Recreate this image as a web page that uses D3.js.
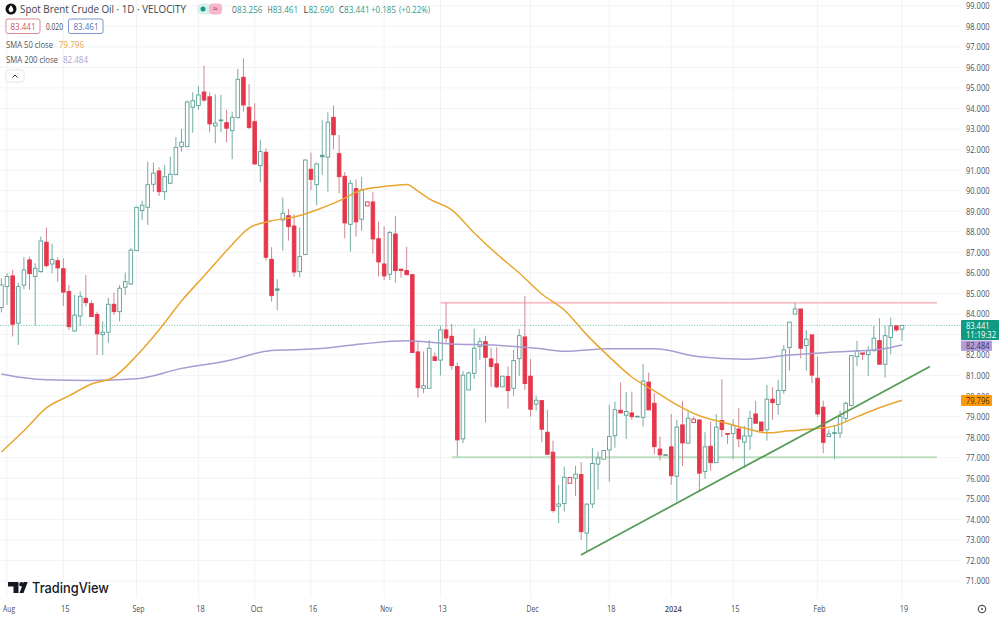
<!DOCTYPE html>
<html>
<head>
<meta charset="utf-8">
<script src="https://cdn.jsdelivr.net/npm/d3@7"></script>
<style>
	html, body { margin: 0; padding: 0; background: #fff; }
	svg { display: block; font-family: "Open Sans", sans-serif; }
</style>
</head>
<body>
<div id="chart"></div>
<script>
var opens = [84.31,85.33,85.85,83.55,85.40,86.63,85.82,86.06,87.49,86.43,
	86.59,86.20,85.09,83.17,83.90,84.76,84.50,83.97,82.99,83.11,
	84.47,84.11,85.30,85.46,87.08,89.03,89.19,90.31,90.96,89.95,
	90.36,90.78,92.14,92.14,94.06,94.14,94.80,94.57,93.15,93.44,
	93.31,92.92,93.55,95.52,94.06,93.36,91.22,91.87,86.66,85.22,
	88.57,88.78,88.28,86.06,86.89,91.04,90.29,91.72,91.63,93.57,
	91.80,90.70,88.36,90.10,88.61,89.26,89.45,87.66,86.43,85.93,
	87.89,86.18,86.11,85.91,82.15,80.38,80.38,81.91,81.75,83.22,
	82.91,81.44,77.92,80.30,81.11,82.41,82.65,81.81,81.57,80.45,
	80.95,80.38,81.82,82.88,80.97,79.61,79.78,78.24,77.27,74.64,
	74.77,75.76,76.00,76.18,73.33,74.75,76.69,76.93,77.38,78.07,
	79.31,79.07,79.18,79.02,78.97,80.68,79.65,77.42,77.15,77.53,
	76.10,78.60,77.71,78.71,78.84,76.33,77.56,76.76,78.81,78.18,
	78.18,78.40,77.76,78.06,79.13,78.74,78.36,79.85,79.59,80.27,
	82.36,83.99,84.24,82.46,82.98,80.87,79.46,78.03,78.22,78.20,
	78.92,79.54,81.92,82.10,82.02,82.21,82.70,81.55,82.85,83.42,
	83.256];
var highs = [85.74,85.98,86.14,85.52,86.76,86.79,86.47,87.76,88.20,87.41,
	86.76,86.71,85.41,84.92,85.09,85.90,84.65,84.11,83.63,84.79,
	85.04,85.41,86.01,87.20,89.22,89.51,91.41,91.36,91.14,91.25,
	91.65,92.60,93.00,94.38,94.79,95.09,96.08,94.79,94.69,94.66,
	93.93,93.84,95.92,96.44,95.19,94.25,92.47,92.06,87.25,85.69,
	89.66,89.11,88.85,88.20,91.53,91.85,91.36,93.43,93.81,94.14,
	92.71,90.90,90.52,90.55,90.67,89.45,89.92,88.49,88.25,88.04,
	88.77,86.18,87.27,85.95,82.65,82.17,82.73,82.12,83.42,84.55,
	83.51,81.63,81.23,81.19,83.28,82.85,82.93,82.36,82.38,80.97,
	81.44,82.25,83.27,84.88,81.81,80.01,79.78,79.33,77.83,75.66,
	76.57,76.04,76.60,76.78,74.79,77.48,77.30,77.38,79.57,79.73,
	80.66,80.20,80.22,79.02,81.57,81.14,80.14,78.03,77.15,79.13,
	78.84,79.77,79.29,79.00,78.84,78.24,78.76,79.13,80.82,78.18,
	78.88,79.41,78.55,79.29,79.77,78.74,80.55,80.43,80.79,82.49,
	83.60,84.55,84.24,83.22,82.98,81.92,79.78,78.36,78.60,79.29,
	79.73,82.00,82.69,82.10,82.44,83.43,83.79,83.43,83.82,83.42,
	83.461];
var lows = [84.08,84.44,82.90,82.49,85.20,85.17,83.43,86.01,86.27,85.98,
	85.57,84.39,83.22,83.14,83.42,84.36,83.87,82.00,82.00,82.60,
	83.95,83.63,84.92,85.41,87.08,88.57,88.33,89.94,89.74,89.55,
	90.33,90.75,91.90,92.14,92.82,93.93,94.33,92.84,92.31,92.84,
	92.36,91.53,93.52,93.84,92.99,91.25,90.41,86.59,84.60,84.19,
	87.08,87.57,85.82,85.77,86.87,90.03,89.30,90.76,89.95,92.02,
	89.87,87.68,87.03,87.76,88.05,89.26,86.92,85.82,85.65,85.65,
	85.52,85.77,85.90,82.12,79.93,80.14,80.38,81.73,81.00,82.60,
	81.28,77.06,77.71,80.30,80.84,81.76,78.71,80.46,80.38,80.45,
	79.39,80.01,80.98,80.30,79.00,79.30,77.75,77.14,74.33,73.82,
	74.38,75.76,75.14,73.00,72.42,74.55,75.44,76.93,75.83,77.49,
	79.18,77.91,78.84,79.02,78.52,79.33,77.17,76.86,77.15,75.68,
	74.87,76.60,77.67,78.71,75.35,75.97,76.37,76.74,78.01,77.67,
	76.93,77.51,76.51,77.38,78.68,78.31,77.83,78.84,79.09,80.11,
	81.24,83.99,81.84,81.24,80.63,78.97,77.22,78.03,76.93,77.95,
	78.76,79.49,81.47,81.76,80.98,82.17,81.55,80.90,82.04,83.14,
	82.690];
var closes = [85.41,85.82,83.50,85.33,86.14,85.96,86.22,87.55,86.35,86.66,
	86.24,85.06,83.38,83.94,84.86,84.55,83.87,83.03,83.11,84.47,
	84.11,85.25,85.57,87.11,89.19,89.29,90.29,90.85,89.95,90.68,
	90.80,92.11,92.36,94.32,94.38,94.66,94.41,93.25,93.29,93.41,
	93.04,93.57,95.42,94.17,93.08,91.30,91.90,86.76,84.89,85.15,
	88.90,88.25,86.04,86.79,91.49,90.55,91.30,91.65,93.33,92.72,
	90.68,88.43,90.36,88.48,90.03,89.45,87.65,86.53,85.85,87.96,
	86.11,86.11,85.91,82.12,80.41,80.51,82.33,81.73,83.22,82.83,
	81.48,77.87,81.02,81.13,82.33,82.65,81.89,81.44,80.45,80.97,
	80.27,81.73,82.94,80.61,79.36,79.80,78.39,77.17,74.43,74.75,
	76.05,76.04,76.20,73.40,74.74,76.72,76.99,77.35,78.03,79.34,
	79.18,79.25,79.00,79.02,80.73,79.33,77.54,77.14,77.15,76.12,
	78.49,77.72,78.92,78.88,76.25,77.53,76.76,78.49,78.37,78.16,
	78.56,77.92,78.06,78.92,78.68,78.31,79.85,79.68,80.27,82.25,
	83.60,84.24,82.33,82.77,81.02,79.13,77.75,78.16,78.20,79.00,
	79.65,81.97,82.20,82.04,82.21,82.82,81.55,82.94,83.42,83.22,
	83.441];

// moving averages read at these bar numbers
var sma50Bars = [0,4,8,12,16,20,24,28,32,36,40,44,48,52,56,60,64,68,72,74,76,80,84,88,92,96,100,104,108,112,116,120,124,128,132,136,140,144,148,152,156,160];
var sma50 = [77.28,78.31,79.43,80.01,80.59,80.93,81.96,83.22,84.63,85.85,87.07,88.18,88.53,88.72,89.06,89.50,90.03,90.20,90.30,89.98,89.60,89.06,87.94,86.92,85.99,84.97,84.19,82.98,81.91,80.93,80.25,79.57,79.04,78.74,78.45,78.21,78.31,78.40,78.55,78.99,79.43,79.796];
var sma200Bars = [0,4,8,16,24,32,40,48,56,64,72,80,88,96,100,108,116,124,132,140,148,156,160];
var sma200 = [81.08,80.89,80.79,80.76,80.84,81.35,81.71,82.22,82.30,82.54,82.69,82.54,82.47,82.30,82.18,82.30,82.30,81.91,81.79,82.00,82.15,82.27,82.484];

// drawn levels
var resistanceLevel = 84.54, resistanceBars = [78, 166.2];
var supportLevel = 77.02, supportBars = [80, 166.2];
var trendBars = [102.95, 164.97], trendPrices = [72.27, 81.44];

// 83.000 sits under the last price tag, so it has no label
var priceTicks = d3.range(71, 100).filter(function(d) { return d != 83; });
var gridPrices = d3.range(71, 100);
var dateBars = [1,11,24,35,45,55,68,78,94,108,119,130,145,160];
var dateLabels = ["Aug","15","Sep","18","Oct","16","Nov","13","Dec","18","2024","15","Feb","19"];
var ohlcNames = ["O","H","L","C"];
var ohlcValues = ["83.256","83.461","82.690","83.441"];

var W = 1000, H = 618;
var UP = "#5c9f96", DOWN = "#e6364b", UPWICK = "#76aca5", DOWNWICK = "#cf8791";

var svg = d3.select("#chart").append("svg").attr("width", W).attr("height", H);
var x = d3.scaleLinear().domain([0, 160]).range([1.4, 902]);
var y = d3.scaleLinear().domain([71, 99]).range([581, 5.75]);

// small text helper, squeezes the glyphs to the width seen in the picture
function label(parent, px, py, s, size, colour, wid) {
	return parent.append("text").attr("x", px).attr("y", py).attr("font-size", size).attr("fill", colour)
		.attr("textLength", wid).attr("lengthAdjust", "spacingAndGlyphs").text(s);
}

// grid and axes
var yAxis = d3.axisRight(y).tickValues(priceTicks).tickFormat(d3.format(".3f")).tickSize(0).tickPadding(0);
svg.append("g").selectAll("line").data(gridPrices).enter().append("line")
	.attr("x1", 0).attr("x2", 960).attr("y1", function(d) { return y(d); }).attr("y2", function(d) { return y(d); })
	.attr("stroke", "#f2f3f6");
svg.append("g").selectAll("line").data(dateBars).enter().append("line")
	.attr("x1", function(d) { return x(d); }).attr("x2", function(d) { return x(d); }).attr("y1", 0).attr("y2", 598)
	.attr("stroke", "#f2f3f6");
var yg = svg.append("g").attr("transform", "translate(966,0)").call(yAxis);
yg.select(".domain").remove();
yg.selectAll("text").attr("font-size", 9.2).attr("fill", "#4a4e57").attr("font-family", "Open Sans")
	.attr("textLength", 23.5).attr("lengthAdjust", "spacingAndGlyphs");
var xAxis = d3.axisBottom(x).tickValues(dateBars).tickFormat(function(d, i) { return dateLabels[i]; }).tickSize(0).tickPadding(0);
var xg = svg.append("g").attr("transform", "translate(1.5,605)").call(xAxis);
xg.select(".domain").remove();
xg.selectAll("text").attr("font-size", 9.2).attr("fill", "#4a4e57").attr("font-family", "Open Sans")
	.attr("font-weight", function(d, i) { return dateLabels[i] == "2024" ? 600 : 400; })
	.attr("textLength", function(d, i) { var n = dateLabels[i].length; return n == 2 ? 8.5 : (n == 3 ? 12 : 17); })
	.attr("lengthAdjust", "spacingAndGlyphs");

// last price dotted line
svg.append("line").attr("x1", 0).attr("x2", 961).attr("y1", y(83.441)).attr("y2", y(83.441))
	.attr("stroke", "#4fb3a5").attr("stroke-dasharray", "1 1.6").attr("opacity", 0.8);

// level lines under the candles
svg.append("line").attr("x1", x(resistanceBars[0])).attr("x2", x(resistanceBars[1]))
	.attr("y1", y(resistanceLevel)).attr("y2", y(resistanceLevel)).attr("stroke", "#f6c3c9").attr("stroke-width", 2);
svg.append("line").attr("x1", x(supportBars[0])).attr("x2", x(supportBars[1]))
	.attr("y1", y(supportLevel)).attr("y2", y(supportLevel)).attr("stroke", "#bcdfc0").attr("stroke-width", 2);

// candles
var bars = closes.map(function(c, i) {
	return { i: i, o: opens[i], h: highs[i], l: lows[i], c: c, rising: i == 0 || c > closes[i - 1] };
});
var candle = svg.append("g").selectAll("g").data(bars).enter().append("g");
candle.append("line")
	.attr("x1", function(d) { return x(d.i); }).attr("x2", function(d) { return x(d.i); })
	.attr("y1", function(d) { return y(d.h); }).attr("y2", function(d) { return y(d.l); })
	.attr("stroke", function(d) { return d.rising ? UPWICK : DOWNWICK; }).attr("stroke-width", 1);
candle.append("rect")
	.attr("x", function(d) { return x(d.i) - 1.8; }).attr("width", 3.6)
	.attr("y", function(d) { return y(Math.max(d.o, d.c)); })
	.attr("height", function(d) { return Math.max(0.8, Math.abs(y(d.o) - y(d.c))); })
	.attr("fill", function(d) { return d.c >= d.o ? "#fff" : (d.rising ? UP : DOWN); })
	.attr("stroke", function(d) { return d.rising ? UP : DOWN; }).attr("stroke-width", 0.9);

// moving averages
function smaLine(barsRead, values, colour) {
	var line = d3.line().x(function(d) { return x(d); })
		.y(function(d, i) { return y(values[i]); }).curve(d3.curveMonotoneX);
	svg.append("path").attr("d", line(barsRead)).attr("fill", "none")
		.attr("stroke", colour).attr("stroke-width", 1.5);
}
smaLine(sma200Bars, sma200, "#a99cd0");
smaLine(sma50Bars, sma50, "#e9a62f");

// trend line
svg.append("line").attr("x1", x(trendBars[0])).attr("x2", x(trendBars[1]))
	.attr("y1", y(trendPrices[0])).attr("y2", y(trendPrices[1]))
	.attr("stroke", "#559b55").attr("stroke-width", 1.7);

// price tags
function tag(top, wid, hei, colour) {
	svg.append("rect").attr("x", 961).attr("y", top).attr("width", wid).attr("height", hei).attr("rx", 1).attr("fill", colour);
}
tag(y(83.441) - 5.5, 38, 20, "#0f9a82");
label(svg, 966, y(83.441) + 3.2, "83.441", 9.2, "#fff", 23.5);
label(svg, 966, y(83.441) + 12.4, "11:19:32", 8.2, "#fff", 30);
tag(y(82.484) - 4.5, 31, 10.5, "#b39ddb");
label(svg, 966, y(82.484) + 3.5, "82.484", 9.2, "#3a3450", 23.5);
tag(y(79.796) - 5.4, 31, 11, "#ff9a0a");
label(svg, 966, y(79.796) + 3.4, "79.796", 9.2, "#4a3000", 23.5);

// legend
var legend = svg.append("g");
legend.append("circle").attr("cx", 11).attr("cy", 9).attr("r", 5.5).attr("fill", "#111");
legend.append("path").attr("d", "M11 5.2c1.6 2.2 2.4 3.3 2.4 4.6a2.4 2.4 0 0 1-4.8 0c0-1.3.8-2.4 2.4-4.6z").attr("fill", "#fff");
label(legend, 20, 13, "Spot Brent Crude Oil · 1D · VELOCITY", 10.8, "#3c3f47", 166);
legend.append("rect").attr("x", 197).attr("y", 3.5).attr("width", 15).attr("height", 11).attr("rx", 5.5).attr("fill", "#d7f0ec");
legend.append("circle").attr("cx", 203).attr("cy", 9).attr("r", 2.5).attr("fill", "#159a86");
legend.append("rect").attr("x", 209).attr("y", 3.5).attr("width", 13).attr("height", 11).attr("rx", 4).attr("fill", "#f7b6cb");
legend.append("text").attr("x", 215).attr("y", 12).attr("font-size", 9).attr("text-anchor", "middle").attr("fill", "#b23a63").text("≈");

// O H L C pairs sit 36 px apart, each letter directly in front of its value
ohlcNames.forEach(function(n, i) {
	var px = 232 + i * 35.7;
	label(legend, px, 12.5, n, 9.2, "#444", 4.8);
	label(legend, px + 5, 12.5, ohlcValues[i], 9.2, "#2f9a8a", 25.5);
});
label(legend, 371, 12.5, "+0.185", 9.2, "#2f9a8a", 25);
label(legend, 399, 12.5, "(+0.22%)", 9.2, "#2f9a8a", 31);

legend.append("rect").attr("x", 6).attr("y", 19).attr("width", 34).attr("height", 14.5).attr("rx", 2).attr("fill", "#fff").attr("stroke", "#d98a94");
label(legend, 10.5, 30, "83.441", 9.2, "#d2505f", 25);
label(legend, 46, 30, "0.020", 8.4, "#444", 17);
legend.append("rect").attr("x", 68.5).attr("y", 19).attr("width", 34.5).attr("height", 14.5).attr("rx", 2).attr("fill", "#fff").attr("stroke", "#7d93c9");
label(legend, 73.5, 30, "83.461", 9.2, "#5870b5", 25);

label(legend, 6, 48, "SMA 50 close", 9, "#555", 47);
label(legend, 59, 48, "79.796", 9.2, "#eaa93f", 25);
label(legend, 6, 63, "SMA 200 close", 9, "#555", 52);
label(legend, 63, 63, "82.484", 9.2, "#ac9fd2", 25);
legend.append("rect").attr("x", 6).attr("y", 70).attr("width", 18).attr("height", 12).attr("rx", 2).attr("fill", "#fff").attr("stroke", "#e3e4e8");
legend.append("path").attr("d", "M12.5 77.5l2.5-2.5 2.5 2.5").attr("fill", "none").attr("stroke", "#333").attr("stroke-width", 1);

// logo
var logo = svg.append("g").attr("fill", "#131722");
logo.append("path").attr("d", "M8 582h10.5v11h-5v-6.5h-5.5z");
logo.append("circle").attr("cx", 21.5).attr("cy", 584.3).attr("r", 2.2);
logo.append("path").attr("d", "M19.5 593l4.2-11h4l-4.2 11z");
label(logo, 32, 592.5, "TradingView", 14.2, "#131722", 77).attr("font-family", "Inter").attr("font-weight", 500);

// gear at the corner of the axes
svg.append("circle").attr("cx", 982).attr("cy", 609).attr("r", 3.7).attr("fill", "none").attr("stroke", "#555").attr("stroke-width", 1.2);
svg.append("circle").attr("cx", 982).attr("cy", 609).attr("r", 1.1).attr("fill", "#555");
</script>
</body>
</html>
